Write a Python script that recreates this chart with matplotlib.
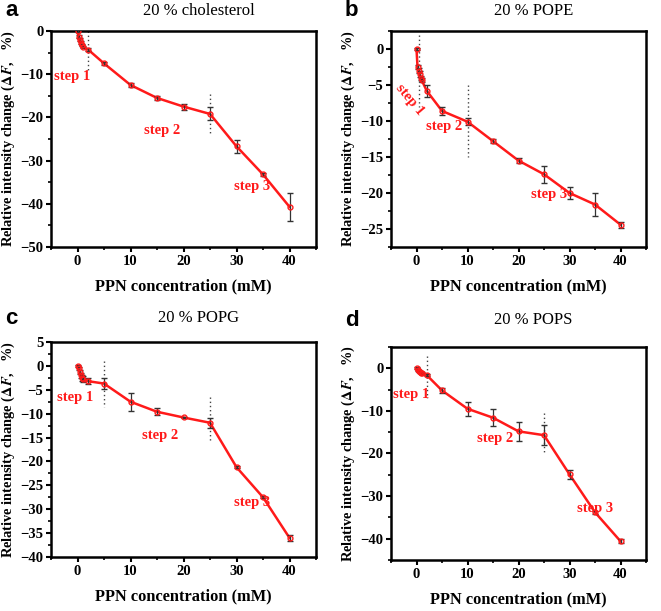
import matplotlib
matplotlib.use('Agg')
import matplotlib.pyplot as plt
from matplotlib.ticker import MultipleLocator

plt.rcParams['font.family'] = ['Liberation Serif', 'Noto Sans CJK SC']
plt.rcParams['mathtext.fontset'] = 'stix'

RED = '#ff1a1a'

# PPN concentration (mM)
conc = [0, 0.2, 0.4, 0.6, 0.8, 1, 2, 5, 10, 15, 20, 25, 30, 35, 40]

# relative intensity change (%) and error bars, one pair per panel
chol = [0, -1.3, -2.0, -2.7, -3.2, -3.7, -4.3, -7.5, -12.5, -15.5, -17.5, -19.2, -26.7, -33.2, -40.7]
chol_err = [0.2, 0.3, 0.3, 0.3, 0.3, 0.3, 0.3, 0.3, 0.4, 0.4, 0.7, 1.5, 1.5, 0.3, 3.2]
pope = [0, -2.5, -3.0, -3.5, -4.0, -4.3, -5.8, -8.6, -10.1, -12.8, -15.5, -17.4, -20.0, -21.6, -24.4]
pope_err = [0.1, 0.3, 0.3, 0.4, 0.3, 0.3, 0.8, 0.6, 0.5, 0.3, 0.4, 1.2, 0.8, 1.6, 0.4]
popg = [0, -0.5, -1.2, -2.0, -2.6, -2.8, -3.2, -3.7, -7.5, -9.6, -10.8, -11.9, -21.2, -27.5, -36.0]
popg_err = [0.2, 0.3, 0.4, 0.5, 0.6, 0.6, 0.6, 1.2, 1.9, 0.7, 0.2, 1.0, 0.2, 0.2, 0.6]
pops = [0, -0.4, -0.6, -0.8, -1.0, -1.1, -1.6, -5.2, -9.5, -11.6, -14.8, -15.7, -24.9, -33.8, -40.6]
pops_err = [0.2, 0.2, 0.2, 0.2, 0.2, 0.2, 0.3, 0.6, 1.7, 2.0, 2.2, 2.4, 1.0, 0.3, 0.5]

titles = ['20 % cholesterol', '20 % POPE', '20 % POPG', '20 % POPS']
letters = ['a', 'b', 'c', 'd']
series = [chol, pope, popg, pops]
errors = [chol_err, pope_err, popg_err, pops_err]
ylims = [(-50, 0), (-27.5, 2.5), (-40, 5), (-45, 5)]
ymajor = [10, 5, 5, 10]

# step boundaries: (x, y_top, y_bottom)
bounds = [
    [(2, 0, -9), (25, -14.5, -24)],
    [(0.5, 2, -8), (10, -5, -15)],
    [(5, 1, -8.5), (25, -6.5, -16)],
    [(2, 3, -7), (25, -10.5, -20)],
]
# step labels: (text, x, y, rotation)
steps = [
    [('step 1', -1, -10.5, 0), ('step 2', 16, -23, 0), ('step 3', 33, -36, 0)],
    [('step 1', -1.3, -7, -50), ('step 2', 5.5, -10.8, 0), ('step 3', 26, -20.2, 0)],
    [('step 1', -0.5, -6.6, 0), ('step 2', 15.5, -14.5, 0), ('step 3', 33, -28.6, 0)],
    [('step 1', -1.0, -6.2, 0), ('step 2', 15.5, -16.5, 0), ('step 3', 35, -33, 0)],
]

W, H = 661, 611
# axes frames in pixels: left, right, top, bottom
frames = [(51, 316, 31, 247), (391, 646, 31, 247), (51, 316, 342, 557), (391, 646, 347, 560)]
title_y = [11, 11, 318, 320]
ylabel_x = [17, 357, 17, 357]

fig = plt.figure(figsize=(W / 100, H / 100), dpi=100)

for i in range(4):
    l, r, t, b = frames[i]
    ax = fig.add_axes([l / W, 1 - b / H, (r - l) / W, (b - t) / H])
    ax.plot(conc, series[i], color=RED, lw=1.8, zorder=2)
    ax.errorbar(conc, series[i], yerr=errors[i], fmt='o', ms=3.5, mfc='none',
                mec=RED, mew=1.0, ecolor='#333333', elinewidth=0.9, capsize=2.5,
                capthick=0.9, zorder=3)
    for x, y0, y1 in bounds[i]:
        ax.plot([x, x], [y0, y1], ls=(0, (1, 2)), color='#444444', lw=1.0, zorder=1)
    for txt, x, y, rot in steps[i]:
        ax.text(x, y, txt, color=RED, fontsize=10.5, fontweight='bold',
                ha='center', va='center', rotation=rot)
    ax.set_xlim(-5, 45)
    ax.set_ylim(*ylims[i])
    ax.xaxis.set_major_locator(MultipleLocator(10))
    ax.xaxis.set_minor_locator(MultipleLocator(5))
    ax.yaxis.set_major_locator(MultipleLocator(ymajor[i]))
    ax.yaxis.set_minor_locator(MultipleLocator(ymajor[i] / 2))
    ax.tick_params(which='major', direction='out', length=3.5, width=1.5, labelsize=10.5, pad=2)
    ax.tick_params(which='minor', direction='out', length=2.2, width=1.2)
    for lab in ax.get_xticklabels() + ax.get_yticklabels():
        lab.set_fontweight('bold')
    for sp in ax.spines.values():
        sp.set_linewidth(1.8)
    ax.set_xlabel('PPN concentration (mM)', fontsize=11.8, fontweight='bold', labelpad=8)
    ax.set_ylabel(r'Relative intensity change ($\mathbf{\Delta}\mathbfit{F}$,   %)',
                  fontsize=10.4, fontweight='bold')
    ax.yaxis.set_label_coords((ylabel_x[i] - l) / (r - l), 0.5)
    fig.text(((l + r) / 2 + 15) / W, 1 - title_y[i] / H, titles[i], fontsize=12,
             ha='center', va='center')
    fig.text((l - 46) / W, 1 - title_y[i] / H, letters[i], fontsize=16,
             fontweight='bold', family='Liberation Sans', ha='left', va='center')

fig.savefig('out.png', dpi=100)
